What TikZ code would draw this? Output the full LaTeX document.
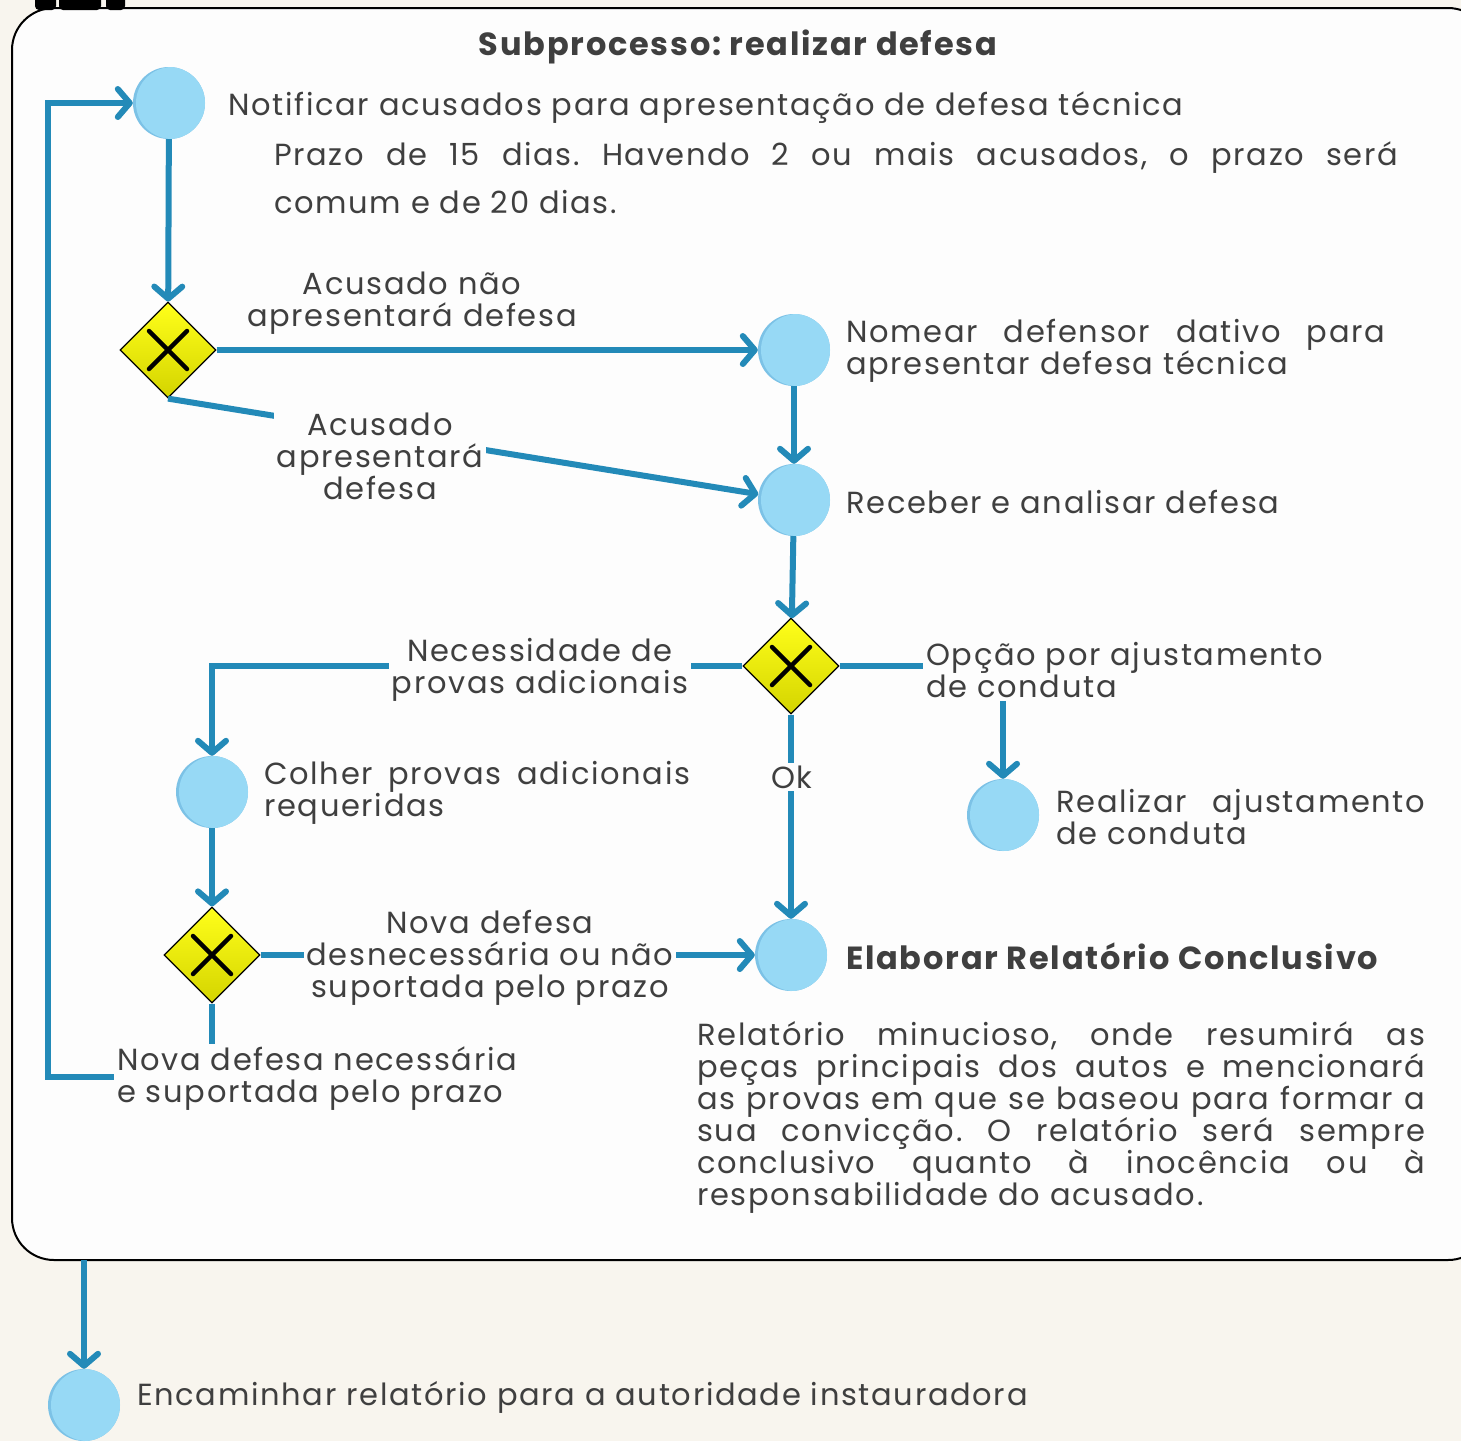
\documentclass[tikz,border=0pt]{standalone}
\usepackage{fontspec}
\setmainfont{Poppins}[LetterSpace=5.5]
\usetikzlibrary{positioning,arrows.meta,shapes.geometric}

\definecolor{paper}{HTML}{F8F5EE}
\definecolor{sheet}{HTML}{FDFDFD}
\definecolor{flow}{HTML}{238AB8}
\definecolor{ink}{HTML}{3F3F3F}
\definecolor{bubble}{HTML}{97D9F5}
\definecolor{bubbleedge}{HTML}{7CC2E6}
\definecolor{gateup}{HTML}{FFFF1A}
\definecolor{gatedown}{HTML}{D4D400}

\begin{document}
\frenchspacing
\begin{tikzpicture}[x=1pt,y=-1pt,
			>={Straight Barb[round,length=12pt,width=28pt]},
			every node/.style={
				text=ink,
				inner sep=0pt,
				font=\fontsize{30.5}{32}\selectfont},
			task/.style={
				circle,
				minimum size=72pt,
				fill=bubbleedge,
				path picture={\fill[bubble] ([xshift=3pt]path picture bounding box.center) circle (36pt);}},
			gate/.style={
				diamond,
				minimum size=96pt,
				draw=black,
				line width=1.2pt,
				top color=gateup,
				bottom color=gatedown,
				path picture={
					\draw[line width=4.5pt,line cap=round]
						([shift={(-19pt,-19pt)}]path picture bounding box.center) -- ++(38pt,38pt)
						([shift={(-19pt,19pt)}]path picture bounding box.center) -- ++(38pt,-38pt);}},
			flowline/.style={draw=flow,line width=6pt},
			tag/.style={fill=sheet,align=center,inner sep=3pt},
			note/.style={anchor=west,align=justify},
			heading/.style={font=\fontsize{32}{32}\selectfont\bfseries}]
			
			\useasboundingbox (0,0) rectangle (1461,1441);
			\fill[paper] (0,0) rectangle (1461,1441);
			
			% subprocess frame
			\draw[line width=2pt,fill=sheet,rounded corners=42pt] (12,8) rectangle (1490,1260);
			\fill[black,rounded corners=4pt] (35,-10) rectangle (56,10);
			\fill[black,rounded corners=4pt] (59,-10) rectangle (101,10);
			\fill[black,rounded corners=4pt] (106,-10) rectangle (125,10);
			\coordinate (frameout) at (84,1260);
			
			\node[heading] (title) at (738,47) {Subprocesso: realizar defesa};
			
			% tasks and gateways
			\node[task] (notify) at (169,103) {};
			\node[gate] (answer) at (168,350) {};
			\node[task] (dativo) at (794,350) {};
			\node[task] (receive) at (794,500) {};
			\node[gate] (choice) at (791,666) {};
			\node[task] (collect) at (212,792) {};
			\node[task] (adjust) at (1003,815) {};
			\node[gate] (again) at (212,955) {};
			\node[task] (report) at (791,955) {};
			\node[task] (forward) at (84,1405) {};
			
			% task texts
			\node[anchor=west] (notifytxt) at (228,108) {Notificar acusados para apresentação de defesa técnica};
			\node[note,text width=1124pt,font=\fontsize{30.5}{48}\selectfont] (prazo) at (274,178)
				{Prazo de 15 dias. Havendo 2 ou mais acusados, o prazo será\linebreak comum e de 20 dias.};
			\node[note,text width=539pt] (dativotxt) at (846,351)
				{Nomear defensor dativo para\linebreak apresentar defesa técnica};
			\node[anchor=west] (receivetxt) at (846,502) {Receber e analisar defesa};
			\node[note,text width=426pt] (collecttxt) at (264,793)
				{Colher provas adicionais\linebreak requeridas};
			\node[note,text width=369pt] (adjusttxt) at (1056,817)
				{Realizar ajustamento\linebreak de conduta};
			\node[heading,anchor=west] (reporttxt) at (846,956) {Elaborar Relatório Conclusivo};
			\node[note,text width=728pt] (reportnote) at (697,1117)
				{Relatório minucioso, onde resumirá as\linebreak
				peças principais dos autos e mencionará\linebreak
				as provas em que se baseou para formar a\linebreak
				sua convicção. O relatório será sempre\linebreak
				conclusivo quanto à inocência ou à\linebreak
				responsabilidade do acusado.};
			\node[anchor=west] (forwardtxt) at (137,1397) {Encaminhar relatório para a autoridade instauradora};
			
			% connectors
			\draw[flowline,->] (notify) -- (answer);
			\draw[flowline,->] (answer.east) -- (dativo);
			\draw[flowline,->] (answer.south) -- (receive);
			\draw[flowline,->] (dativo) -- (receive);
			\draw[flowline,->] (receive) -- (choice);
			\draw[flowline,->] (choice.west) -| (collect);
			\draw[flowline,->] (choice.east) -| (adjust);
			\draw[flowline,->] (choice.south) -- (report);
			\draw[flowline,->] (collect) -- (again);
			\draw[flowline,->] (again.east) -- (report);
			\draw[flowline,->] (again.south) -- (212,1077) -- (48,1077) |- (notify);
			\draw[flowline,->] (frameout) -- (forward);
			
			% connector labels
			\node[tag] (nodefense) at (412,303) {Acusado não\\apresentará defesa};
			\node[tag] (defense) at (380,456) {Acusado\\apresentará\\defesa};
			\node[tag] (moreproof) at (540,670) {Necessidade de\\provas adicionais};
			\node[tag,anchor=west,align=left] (tac) at (923,670) {Opção por ajustamento\\de conduta};
			\node[tag] (ok) at (792,777) {Ok};
			\node[tag] (nomore) at (490,958) {Nova defesa\\desnecessária ou não\\suportada pelo prazo};
			\node[tag,anchor=west,align=left] (newdefense) at (114,1079) {Nova defesa necessária\\e suportada pelo prazo};
			
		\end{tikzpicture}
\end{document}
